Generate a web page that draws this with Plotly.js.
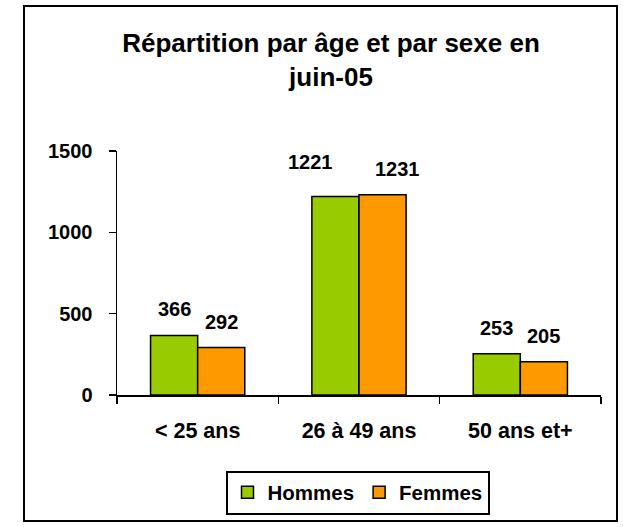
<!DOCTYPE html>
<html>
<head>
<meta charset="utf-8">
<script src="https://cdn.plot.ly/plotly-3.0.1.min.js"></script>
<style>html,body{margin:0;padding:0;background:#fff;}#chart{width:623px;height:527px;}</style>
</head>
<body>
<div id="chart"></div>
<script>
const categories = ['< 25 ans', '26 à 49 ans', '50 ans et+'];
const hommes = [366, 1221, 253];
const femmes = [292, 1231, 205];
const seriesNames = ['Hommes', 'Femmes'];
const yTicks = [0, 500, 1000, 1500];

const FONT = 'Liberation Sans, Arial, Helvetica, sans-serif';
const green = '#99CC00', orange = '#FF9900';

// plot area geometry (px)
const L = 117, R = 22, T = 151, B = 132;
const W = 623 - L - R;
const bargap = 0.416;
const barW = (W / categories.length) * (1 - bargap) / 2;

const traces = [
  {type: 'bar', name: seriesNames[0], x: categories, y: hommes,
   marker: {color: green, line: {color: '#000', width: 1.5}}, hoverinfo: 'x+y'},
  {type: 'bar', name: seriesNames[1], x: categories, y: femmes,
   marker: {color: orange, line: {color: '#000', width: 1.5}}, hoverinfo: 'x+y'}
];

// data labels above bars (Excel-style placement; middle group nudged to avoid overlap)
const annotations = [];
[hommes, femmes].forEach((vals, s) => {
  vals.forEach((v, i) => {
    let dx = (s === 0 ? -1 : 1) * barW / 2;
    let dy = 26;
    if (i === 1) { dx += (s === 0 ? -25 : 14.5); if (s === 0) dy += 8; }
    annotations.push({
      x: categories[i], y: v, xref: 'x', yref: 'y',
      text: String(v), showarrow: false,
      xshift: dx, yshift: dy, xanchor: 'center', yanchor: 'middle',
      font: {family: FONT, size: 20, weight: 'bold', color: '#000'}
    });
  });
});

const pxToPaperX = px => (px - L) / W;
const H = 527 - T - B;
const pxToPaperY = py => (527 - B - py) / H;

const layout = {
  width: 623, height: 527,
  margin: {l: L, r: R, t: T, b: B, pad: 0},
  paper_bgcolor: '#fff', plot_bgcolor: '#fff',
  font: {family: FONT, size: 20, weight: 'bold', color: '#000'},
  title: {
    text: 'Répartition par âge et par sexe en<br>juin-05',
    font: {family: FONT, size: 26, weight: 'bold', color: '#000'},
    xref: 'container', yref: 'container',
    x: 331 / 623, xanchor: 'center',
    y: 1 - 52 / 527, yanchor: 'top'
  },
  barmode: 'group', bargap: bargap, bargroupgap: 0,
  showlegend: true,
  legend: {
    orientation: 'h', xref: 'paper', yref: 'paper',
    x: pxToPaperX(357.5), xanchor: 'center',
    y: pxToPaperY(492.5), yanchor: 'middle',
    bordercolor: '#000', borderwidth: 2, bgcolor: '#fff',
    font: {family: FONT, size: 20.5, weight: 'bold', color: '#000'},
    itemwidth: 30, traceorder: 'normal'
  },
  xaxis: {
    type: 'category', showline: true, linecolor: '#000', linewidth: 1.5,
    ticks: 'outside', ticklen: 7, tickwidth: 1.5, tickcolor: '#000',
    tickson: 'boundaries', showgrid: false, zeroline: false,
    ticklabelstandoff: 16,
    tickfont: {family: FONT, size: 21.5, weight: 'bold', color: '#000'},
    fixedrange: true
  },
  yaxis: {
    range: [0, 1500], tickvals: yTicks, ticktext: yTicks.map(String),
    showline: true, linecolor: '#000', linewidth: 1.5,
    ticks: 'outside', ticklen: 7, tickwidth: 1.5, tickcolor: '#000',
    showgrid: false, zeroline: false, ticklabelstandoff: 12,
    tickfont: {family: FONT, size: 20, weight: 'bold', color: '#000'},
    fixedrange: true
  },
  shapes: [{
    type: 'rect', xref: 'paper', yref: 'paper', layer: 'below',
    x0: pxToPaperX(24), x1: pxToPaperX(617),
    y0: pxToPaperY(521), y1: pxToPaperY(6),
    line: {color: '#000', width: 2}, fillcolor: 'rgba(0,0,0,0)'
  }],
  annotations: annotations
};

Plotly.newPlot('chart', traces, layout, {displayModeBar: false, staticPlot: true});
</script>
</body>
</html>
